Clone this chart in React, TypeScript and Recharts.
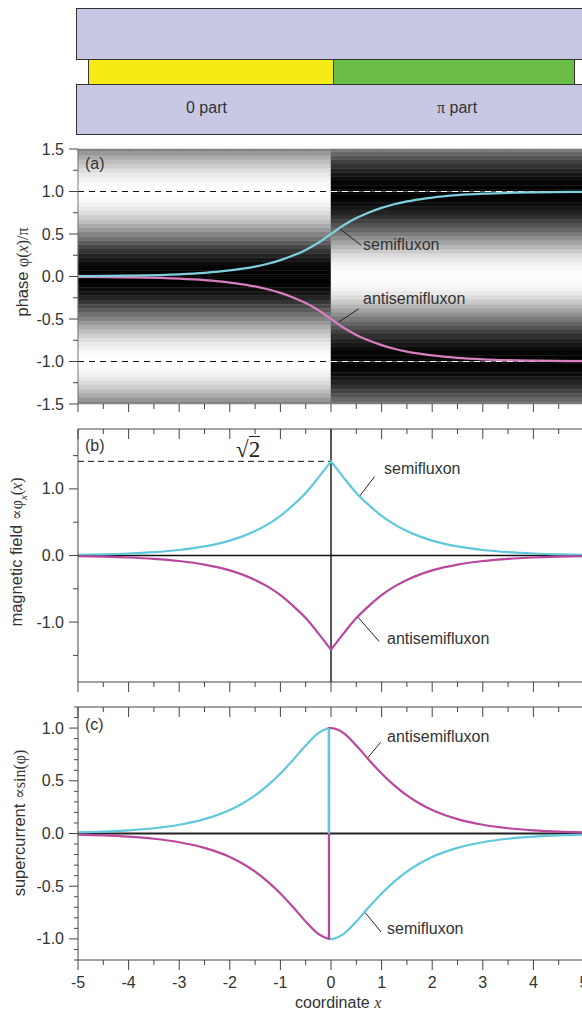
import React from 'react';
import { LineChart, Line, XAxis, YAxis, ReferenceLine, ReferenceArea } from 'recharts';

// x grid and phase(x)/pi
const phaseX = [-5, -4, -3, -2.5, -2, -1.75, -1.5, -1.25, -1, -0.75, -0.5, -0.25, 0, 0.25, 0.5, 0.75, 1, 1.25, 1.5, 1.75, 2, 2.5, 3, 4, 5];
const phaseSemi = [0.004, 0.01, 0.026, 0.043, 0.071, 0.092, 0.117, 0.15, 0.193, 0.246, 0.313, 0.397, 0.5, 0.603, 0.687, 0.754, 0.807, 0.85, 0.883, 0.908, 0.929, 0.957, 0.974, 0.99, 0.996];
const phaseAnti = [-0.004, -0.01, -0.026, -0.043, -0.071, -0.092, -0.117, -0.15, -0.193, -0.246, -0.313, -0.397, -0.5, -0.603, -0.687, -0.754, -0.807, -0.85, -0.883, -0.908, -0.929, -0.957, -0.974, -0.99, -0.996];

// background grey level for |phase| = 0, 0.05, ... 1.5 (0 part, the pi part is inverted)
const bandStep = 0.05;
const bandGrey = [0, 2, 6, 12, 22, 36, 52, 72, 92, 112, 132, 152, 172, 190, 206, 220, 232, 242, 249, 254, 255, 254, 249, 242, 232, 220, 206, 190, 172, 152, 132];

// panel (b)
const fieldX = [-5, -4.5, -4, -3.5, -3, -2.5, -2, -1.75, -1.5, -1.25, -1, -0.75, -0.5, -0.25, -0.1, -0.02, 0, 0.02, 0.1, 0.25, 0.5, 0.75, 1, 1.25, 1.5, 1.75, 2, 2.5, 3, 3.5, 4, 4.5, 5];
const fieldSemi = [0.011, 0.018, 0.03, 0.05, 0.083, 0.136, 0.224, 0.287, 0.367, 0.468, 0.595, 0.756, 0.94, 1.17, 1.315, 1.394, 1.414, 1.394, 1.315, 1.17, 0.94, 0.756, 0.595, 0.468, 0.367, 0.287, 0.224, 0.136, 0.083, 0.05, 0.03, 0.018, 0.011];
const fieldAnti = [-0.011, -0.018, -0.03, -0.05, -0.083, -0.136, -0.224, -0.287, -0.367, -0.468, -0.595, -0.756, -0.94, -1.17, -1.315, -1.394, -1.414, -1.394, -1.315, -1.17, -0.94, -0.756, -0.595, -0.468, -0.367, -0.287, -0.224, -0.136, -0.083, -0.05, -0.03, -0.018, -0.011];

// panel (c), the jump sits just left of x = 0
const currentX = [-5, -4.5, -4, -3.5, -3, -2.5, -2, -1.75, -1.5, -1.25, -1, -0.75, -0.5, -0.25, -0.1, -0.04, -0.04, 0, 0.1, 0.25, 0.5, 0.75, 1, 1.25, 1.5, 1.75, 2, 2.5, 3, 3.5, 4, 4.5, 5];
const currentSemi = [0.011, 0.018, 0.03, 0.05, 0.083, 0.136, 0.222, 0.284, 0.361, 0.456, 0.569, 0.698, 0.835, 0.953, 0.991, 1, -1, -1, -0.991, -0.953, -0.835, -0.698, -0.569, -0.456, -0.361, -0.284, -0.222, -0.136, -0.083, -0.05, -0.03, -0.018, -0.011];
const currentAnti = [-0.011, -0.018, -0.03, -0.05, -0.083, -0.136, -0.222, -0.284, -0.361, -0.456, -0.569, -0.698, -0.835, -0.953, -0.991, -1, 1, 1, 0.991, 0.953, 0.835, 0.698, 0.569, 0.456, 0.361, 0.284, 0.222, 0.136, 0.083, 0.05, 0.03, 0.018, 0.011];

// ticks
const xMajor = [-5, -4, -3, -2, -1, 0, 1, 2, 3, 4, 5];
const xTicks = [-5, -4.5, -4, -3.5, -3, -2.5, -2, -1.5, -1, -0.5, 0, 0.5, 1, 1.5, 2, 2.5, 3, 3.5, 4, 4.5, 5];
const phaseTicks = [-1.5, -1.25, -1, -0.75, -0.5, -0.25, 0, 0.25, 0.5, 0.75, 1, 1.25, 1.5];
const phaseMajor = [-1.5, -1, -0.5, 0, 0.5, 1, 1.5];
const fieldTicks = [-1.5, -1, -0.5, 0, 0.5, 1, 1.5];
const fieldMajor = [-1, 0, 1];
const currentTicks = [-1.2, -1.1, -1, -0.9, -0.8, -0.7, -0.6, -0.5, -0.4, -0.3, -0.2, -0.1, 0, 0.1, 0.2, 0.3, 0.4, 0.5, 0.6, 0.7, 0.8, 0.9, 1, 1.1, 1.2];
const currentMajor = [-1, -0.5, 0, 0.5, 1];

const SANS = '"Liberation Sans", Arial, sans-serif';
const SERIF = '"Liberation Serif", "DejaVu Serif", serif';
const INK = '#333';
const AXIS = '#444';
const CYAN = '#5fc8dc';
const MAGENTA = '#b8479d';

const table = (xs: number[], a: number[], b: number[]) => xs.map((x, i) => ({ x, semi: a[i], anti: b[i] }));

// recharts has no minor ticks, so every tick is drawn here
const xTick = (major: number, minor: number, labels = false, colour = AXIS) => (p: any) => {
  const isMajor = xMajor.includes(p.payload.value);
  return (
    <g>
      <line x1={p.x} x2={p.x} y1={p.y} y2={p.y + (isMajor ? major : minor)} stroke={colour} strokeWidth={1} />
      {labels && isMajor && (
        <text x={p.x} y={p.y + 28} textAnchor="middle" fontSize={16} fontFamily={SANS} fill={INK}>
          {p.payload.value}
        </text>
      )}
    </g>
  );
};

const yTick = (majors: number[], majorLen = 9, minorLen = 5) => (p: any) => {
  const isMajor = majors.includes(p.payload.value);
  return (
    <g>
      <line x1={p.x} x2={p.x - (isMajor ? majorLen : minorLen)} y1={p.y} y2={p.y} stroke={AXIS} strokeWidth={1} />
      {isMajor && (
        <text x={p.x - 14} y={p.y + 5.5} textAnchor="end" fontSize={16} fontFamily={SANS} fill={INK}>
          {p.payload.value.toFixed(1)}
        </text>
      )}
    </g>
  );
};

const Text = ({ left, y, children, size = 16 }: any) => (
  <div style={{ position: 'absolute', left, top: y - 12, height: 24, lineHeight: '24px', fontSize: size, fontFamily: SANS, color: INK, whiteSpace: 'nowrap' }}>
    {children}
  </div>
);

const Sym = ({ children, italic = false }: any) => (
  <span style={{ fontFamily: SERIF, fontStyle: italic ? 'italic' : 'normal', fontSize: 16 }}>{children}</span>
);

const AxisTitle = ({ x, y, children }: any) => (
  <div style={{ position: 'absolute', left: x, top: y, width: 0, height: 0 }}>
    <div style={{ position: 'absolute', transform: 'translate(-50%, -50%) rotate(-90deg)', fontSize: 16.5, fontFamily: SANS, color: INK, whiteSpace: 'nowrap' }}>
      {children}
    </div>
  </div>
);

const Leader = ({ from, to }: any) => (
  <ReferenceLine segment={[from, to]} stroke="#222" strokeWidth={1} ifOverflow="visible" />
);

const Block = ({ left, top, width, height, fill }: any) => (
  <div style={{ position: 'absolute', left, top, width, height, background: fill, border: '1px solid #333', boxSizing: 'border-box' }} />
);

const CHART_W = 606;
const margin = (top: number, bottom: number) => ({ top, bottom, left: 0, right: 22 });
const noLine = { tickLine: false, tickSize: 0, tickMargin: 0 };

const PhasePanel = () => (
  <div style={{ position: 'absolute', left: 0, top: 139 }}>
    <LineChart width={CHART_W} height={279} margin={margin(9, 13)} data={table(phaseX, phaseSemi, phaseAnti)}>
      <XAxis dataKey="x" type="number" domain={[-5, 5]} ticks={xTicks} interval={0} height={1} {...noLine} axisLine={false} tick={xTick(8, 5)} />
      <XAxis xAxisId="top" dataKey="x" orientation="top" type="number" domain={[-5, 5]} ticks={xTicks} interval={0} height={1} {...noLine} axisLine={false} tick={xTick(2, 2, false, '#777')} />
      <YAxis type="number" width={78} domain={[-1.5, 1.5]} ticks={phaseTicks} interval={0} {...noLine} axisLine={{ stroke: '#777' }} tick={yTick(phaseMajor)} />
      {bandGrey.flatMap((g, i) => {
        const left = `rgb(${g},${g},${g})`;
        const inv = 255 - g;
        const right = `rgb(${inv},${inv},${inv})`;
        const y1 = Math.max(i * bandStep - bandStep / 2, 0);
        const y2 = Math.min(i * bandStep + bandStep / 2, 1.5);
        return [
          <ReferenceArea key={`lt${i}`} x1={-5} x2={0} y1={y1} y2={y2} fill={left} fillOpacity={1} stroke={left} strokeWidth={0.5} />,
          <ReferenceArea key={`lb${i}`} x1={-5} x2={0} y1={-y2} y2={-y1} fill={left} fillOpacity={1} stroke={left} strokeWidth={0.5} />,
          <ReferenceArea key={`rt${i}`} x1={0} x2={5} y1={y1} y2={y2} fill={right} fillOpacity={1} stroke={right} strokeWidth={0.5} />,
          <ReferenceArea key={`rb${i}`} x1={0} x2={5} y1={-y2} y2={-y1} fill={right} fillOpacity={1} stroke={right} strokeWidth={0.5} />,
        ];
      })}
      <ReferenceLine segment={[{ x: -5, y: 1 }, { x: 0, y: 1 }]} stroke="#111" strokeDasharray="6 5" />
      <ReferenceLine segment={[{ x: -5, y: -1 }, { x: 0, y: -1 }]} stroke="#111" strokeDasharray="6 5" />
      <ReferenceLine segment={[{ x: 0, y: 1 }, { x: 5, y: 1 }]} stroke="#666" />
      <ReferenceLine segment={[{ x: 0, y: 1 }, { x: 5, y: 1 }]} stroke="#fff" strokeDasharray="6 5" />
      <ReferenceLine segment={[{ x: 0, y: -1 }, { x: 5, y: -1 }]} stroke="#666" />
      <ReferenceLine segment={[{ x: 0, y: -1 }, { x: 5, y: -1 }]} stroke="#fff" strokeDasharray="6 5" />
      {Leader({ from: { x: 0.16, y: 0.567 }, to: { x: 0.6, y: 0.366 } })}
      {Leader({ from: { x: 0.14, y: -0.54 }, to: { x: 0.55, y: -0.38 } })}
      <Line dataKey="anti" type="monotone" stroke="#d77fbf" strokeWidth={2.2} dot={false} isAnimationActive={false} />
      <Line dataKey="semi" type="monotone" stroke="#7fcfdf" strokeWidth={2.2} dot={false} isAnimationActive={false} />
    </LineChart>
  </div>
);

const FieldPanel = () => (
  <div style={{ position: 'absolute', left: 0, top: 419 }}>
    <LineChart width={CHART_W} height={277} margin={margin(9, 13)} data={table(fieldX, fieldSemi, fieldAnti)}>
      <XAxis dataKey="x" type="number" domain={[-5, 5]} ticks={xTicks} interval={0} height={1} {...noLine} axisLine={{ stroke: AXIS }} tick={xTick(10, 5)} />
      <XAxis xAxisId="top" dataKey="x" orientation="top" type="number" domain={[-5, 5]} ticks={xTicks} interval={0} height={1} {...noLine} axisLine={{ stroke: AXIS }} tick={xTick(10, 5)} />
      <YAxis type="number" width={78} domain={[-1.9, 1.9]} ticks={fieldTicks} interval={0} {...noLine} axisLine={{ stroke: AXIS }} tick={yTick(fieldMajor)} />
      <ReferenceLine x={0} stroke="#222" strokeWidth={1.5} />
      <ReferenceLine y={0} stroke="#111" strokeWidth={1.5} />
      <ReferenceLine segment={[{ x: -5, y: 1.414 }, { x: 0, y: 1.414 }]} stroke="#111" strokeDasharray="6 4" />
      {Leader({ from: { x: 0.56, y: 0.885 }, to: { x: 0.86, y: 1.185 } })}
      {Leader({ from: { x: 0.52, y: -0.915 }, to: { x: 0.95, y: -1.29 } })}
      <Line dataKey="semi" type="monotone" stroke={CYAN} strokeWidth={2.2} dot={false} isAnimationActive={false} />
      <Line dataKey="anti" type="monotone" stroke={MAGENTA} strokeWidth={2.2} dot={false} isAnimationActive={false} />
    </LineChart>
  </div>
);

const CurrentPanel = () => (
  <div style={{ position: 'absolute', left: 0, top: 697 }}>
    <LineChart width={CHART_W} height={315} margin={margin(9, 51)} data={table(currentX, currentSemi, currentAnti)}>
      <XAxis dataKey="x" type="number" domain={[-5, 5]} ticks={xTicks} interval={0} height={1} {...noLine} axisLine={{ stroke: AXIS }} tick={xTick(10, 5, true)} />
      <XAxis xAxisId="top" dataKey="x" orientation="top" type="number" domain={[-5, 5]} ticks={xTicks} interval={0} height={1} {...noLine} axisLine={{ stroke: AXIS }} tick={xTick(10, 5)} />
      <YAxis type="number" width={78} domain={[-1.2, 1.2]} ticks={currentTicks} interval={0} {...noLine} axisLine={{ stroke: AXIS }} tick={yTick(currentMajor, 9, 4)} />
      <ReferenceLine y={0} stroke="#222" strokeWidth={2} />
      {Leader({ from: { x: 0.71, y: 0.71 }, to: { x: 0.98, y: 0.865 } })}
      {Leader({ from: { x: 0.65, y: -0.735 }, to: { x: 0.99, y: -0.935 } })}
      <Line dataKey="semi" type="monotone" stroke={CYAN} strokeWidth={2.2} dot={false} isAnimationActive={false} />
      <Line dataKey="anti" type="monotone" stroke={MAGENTA} strokeWidth={2.2} dot={false} isAnimationActive={false} />
      <Line data={[{ x: -0.04, jump: 1 }, { x: -0.04, jump: 0 }]} dataKey="jump" type="linear" stroke={CYAN} strokeWidth={2.2} dot={false} isAnimationActive={false} />
    </LineChart>
  </div>
);

export default function App() {
  return (
    <div style={{ position: 'absolute', left: 0, top: 0, width: 582, height: 1012, overflow: 'hidden', background: '#fff' }}>
      {/* junction sketch */}
      <Block left={76} top={8} width={530} height={52} fill="#c8c8e4" />
      <Block left={88} top={59} width={246} height={26} fill="#f5ea14" />
      <Block left={333} top={59} width={242} height={26} fill="#6abd45" />
      <Block left={76} top={84} width={530} height={51} fill="#c8c8e4" />
      <Text left={186} y={108}>0 part</Text>
      <Text left={437} y={108}><Sym>π</Sym> part</Text>

      <PhasePanel />
      <FieldPanel />
      <CurrentPanel />

      <Text left={85} y={164}>(a)</Text>
      <Text left={85} y={446}>(b)</Text>
      <Text left={85} y={725}>(c)</Text>
      <Text left={363} y={245}>semifluxon</Text>
      <Text left={363} y={299}>antisemifluxon</Text>
      <Text left={384} y={469}>semifluxon</Text>
      <Text left={387} y={639}>antisemifluxon</Text>
      <Text left={387} y={737}>antisemifluxon</Text>
      <Text left={387} y={929}>semifluxon</Text>

      <div style={{ position: 'absolute', left: 236, top: 437, fontFamily: SERIF, fontSize: 23, lineHeight: '26px', color: '#222' }}>
        √<span style={{ borderTop: '1px solid #222' }}>2</span>
      </div>

      <AxisTitle x={22} y={272}>phase <Sym>φ(<i>x</i>)/π</Sym></AxisTitle>
      <AxisTitle x={18} y={552}>magnetic field <Sym>∝φ<sub style={{ fontSize: 11 }}><i>x</i></sub>(<i>x</i>)</Sym></AxisTitle>
      <AxisTitle x={19} y={823}>supercurrent <Sym>∝sin(φ)</Sym></AxisTitle>
      <Text left={295} y={1003}>coordinate <Sym italic>x</Sym></Text>
    </div>
  );
}
